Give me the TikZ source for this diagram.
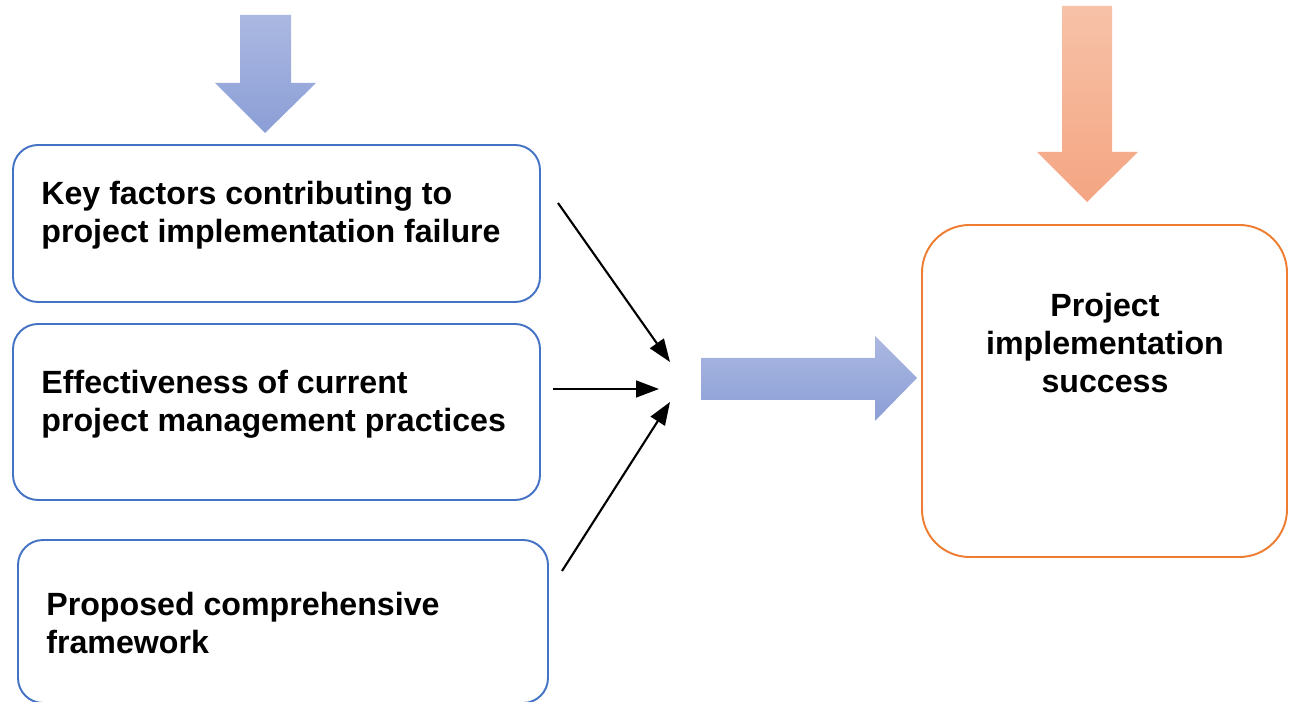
\documentclass[tikz,border=0pt]{standalone}
\usepackage{fontspec}
\setmainfont{Liberation Sans}
\usetikzlibrary{arrows.meta}
\usetikzlibrary{positioning}
\definecolor{boxblue}{HTML}{4472C4}
\definecolor{boxorange}{HTML}{ED7D31}
\definecolor{bluetop}{HTML}{ABB8E1}
\definecolor{bluebot}{HTML}{8B9ED6}
\definecolor{orangetop}{HTML}{F7C2A8}
\definecolor{orangebot}{HTML}{F4A582}

\begin{document}
\begin{tikzpicture}[->,>={Triangle[length=13pt,width=9.5pt]},
    factor box/.style={rectangle,rounded corners=0.5cm,draw=boxblue,line width=1.1pt,minimum width=10.54cm},
    result box/.style={rectangle,rounded corners=0.95cm,draw=boxorange,line width=1.1pt,minimum width=7.3cm,minimum height=6.64cm},
    box text/.style={font=\fontsize{18.3}{21.8}\selectfont\bfseries,inner sep=0pt},
    thin arrow/.style={line width=1.2pt,black}]
  \useasboundingbox (0,0) rectangle (25.82,-14.04);
  % the three factors
  \node[factor box,minimum height=3.14cm] (f1) at (5.53,-4.47) {};
  \node[factor box,minimum height=3.52cm] (f2) at (5.53,-8.24) {};
  \node[factor box,minimum height=3.26cm,minimum width=10.6cm] (f3) at (5.66,-12.43) {};
  \node[box text,anchor=west,align=left] (t1) at ([xshift=0.58cm,yshift=0.17cm]f1.west) {Key factors contributing to\\project implementation failure};
  \node[box text,anchor=west,align=left] (t2) at ([xshift=0.58cm,yshift=0.15cm]f2.west) {Effectiveness of current\\project management practices};
  \node[box text,anchor=west,align=left] (t3) at ([xshift=0.58cm,yshift=-0.03cm]f3.west) {Proposed comprehensive\\framework};
  % outcome
  \node[result box] (succ) at (22.09,-7.82) {};
  \node[box text,align=center] (t4) at (22.10,-6.86) {Project\\implementation\\success};
  % block arrows
  \shade[top color=bluetop,bottom color=bluebot,draw=none] (4.80,-0.30) -- (5.82,-0.30) -- (5.82,-1.66) -- (6.32,-1.66)
    -- (5.30,-2.66) -- (4.30,-1.66) -- (4.80,-1.66) -- cycle;
  \shade[top color=orangetop,bottom color=orangebot,draw=none] (21.24,-0.12) -- (22.24,-0.12) -- (22.24,-3.04) -- (22.76,-3.04)
    -- (21.74,-4.04) -- (20.74,-3.04) -- (21.24,-3.04) -- cycle;
  \shade[top color=bluetop,bottom color=bluebot,draw=none] (14.02,-7.16) -- (17.50,-7.16) -- (17.50,-6.72) -- (18.34,-7.56)
    -- (17.50,-8.42) -- (17.50,-8.00) -- (14.02,-8.00) -- cycle;
  % thin arrows
  \coordinate (s1) at (11.16,-4.06);
  \coordinate (s2) at (11.06,-7.78);
  \coordinate (s3) at (11.24,-11.42);
  \coordinate (e1) at (13.40,-7.24);
  \coordinate (e2) at (13.18,-7.78);
  \coordinate (e3) at (13.40,-8.04);
  \draw[thin arrow] (s1) -- (e1);
  \draw[thin arrow] (s2) -- (e2);
  \draw[thin arrow] (s3) -- (e3);
\end{tikzpicture}
\end{document}
